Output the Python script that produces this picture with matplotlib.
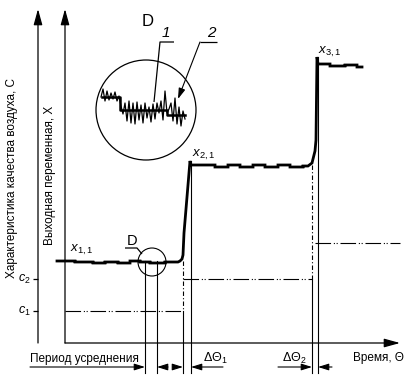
import matplotlib.pyplot as plt
from matplotlib.patches import Circle

plt.rcParams['font.family'] = ['Liberation Sans', 'DejaVu Sans']
plt.rcParams['mathtext.fontset'] = 'custom'
plt.rcParams['mathtext.rm'] = 'Liberation Sans'
plt.rcParams['mathtext.it'] = 'Liberation Sans:italic'

# --- data (time / value units, origin at the axes corner) ---
c_levels = [32, 64, 100]
c_spans = [(0, 118), (118, 247), (250, 335)]
c_ticks = [32, 64]
c_labels = [r'$c_1$', r'$c_2$']

# output signal X: step levels with small ripples
lvl1_t = [-8, 10, 28, 40, 53, 65, 75, 85, 100, 113]
lvl1_v = [82, 81, 80, 81, 80, 82, 81, 80, 81]
rise1_t = [113, 115, 117, 118, 119, 125, 126]
rise1_v = [81, 82, 84, 88, 110, 182, 178]
lvl2_t = [126, 150, 163, 175, 188, 200, 213, 225, 238, 243]
lvl2_v = [178, 176, 178, 176, 178, 176, 178, 176, 177]
rise2_t = [243, 247, 250, 251, 252, 253]
rise2_v = [177, 180, 192, 203, 286, 279]
lvl3_t = [253, 265, 280, 292, 297]
lvl3_v = [279, 277, 278, 276]

# times
t_avg = (80, 92)
t_step1 = (118, 126)
t_step2 = (247, 253)

# zoom "D": averaged (1) and raw (2) signals
avg_t = [37, 55, 102, 120]
avg_v = [246, 233, 228]
raw_t = [36, 38, 40, 42, 44, 46, 48, 50, 52, 54, 56, 58, 60, 62, 64, 66, 68, 70,
         72, 74, 76, 78, 80, 82, 84, 86, 88, 90, 92, 94, 96, 98, 100, 102, 104,
         106, 108, 110, 112, 114, 116, 118, 120]
raw_v = [246, 254, 242, 252, 243, 250, 244, 251, 242, 247, 237, 229, 240, 222,
         242, 220, 240, 219, 241, 223, 238, 220, 240, 225, 236, 221, 239, 224,
         240, 230, 242, 223, 252, 230, 234, 240, 222, 245, 219, 236, 217, 232, 224]


def steps(t, v):
    xs, ys = [], []
    for i, val in enumerate(v):
        xs += [t[i], t[i + 1]]
        ys += [val, val]
    return xs, ys


fig = plt.figure(figsize=(4.1, 3.8), dpi=100)
ax = fig.add_axes([0, 0, 1, 1])
ax.set_xlim(-65, 345)
ax.set_ylim(-37, 343)
ax.axis('off')

k = dict(color='black', lw=0.9, solid_capstyle='butt')
big = dict(arrowstyle='-|>,head_length=0.8,head_width=0.22', color='black',
           lw=0.9, mutation_scale=12, shrinkA=0, shrinkB=0)
small = dict(arrowstyle='-|>,head_length=0.8,head_width=0.25', color='black',
             lw=0.8, mutation_scale=8, shrinkA=0, shrinkB=0)

# axes
ax.annotate('', xy=(-27, 334), xytext=(-27, 0), arrowprops=big)
ax.annotate('', xy=(0, 334), xytext=(0, 0), arrowprops=big)
ax.annotate('', xy=(335, 0), xytext=(0, 0), arrowprops=big)

for y, lab in zip(c_ticks, c_labels):
    ax.plot([-32, -27], [y, y], **k)
    ax.text(-34, y, lab, ha='right', va='center', fontsize=9)

# true concentration C
dashdot = (0, (14, 2.5, 1, 1.5, 1, 2.5))
for lev, (a, b) in zip(c_levels, c_spans):
    ax.plot([a, b], [lev, lev], color='black', lw=0.8, linestyle=dashdot)

# signal X
x1, y1 = steps(lvl1_t, lvl1_v)
x2, y2 = steps(lvl2_t, lvl2_v)
x3, y3 = steps(lvl3_t, lvl3_v)
sx = x1 + rise1_t + x2 + rise2_t + x3
sy = y1 + rise1_v + y2 + rise2_v + y3
ax.plot(sx, sy, color='black', lw=2.0, solid_joinstyle='miter')

# vertical reference lines
for t in t_avg:
    ax.plot([t, t], [82, -30], color='black', lw=0.8)
ax.plot([t_step1[0]] * 2, [82, c_levels[0]], color='black', lw=0.8, linestyle=(0, (4, 2, 1, 2)))
ax.plot([t_step1[0]] * 2, [c_levels[0], -30], color='black', lw=0.8)
ax.plot([t_step1[1]] * 2, [182, -30], color='black', lw=0.8)
ax.plot([t_step2[0]] * 2, [178, c_levels[1]], color='black', lw=0.8, linestyle=(0, (4, 2, 1, 2)))
ax.plot([t_step2[0]] * 2, [c_levels[1], -30], color='black', lw=0.8)
ax.plot([t_step2[1]] * 2, [286, -30], color='black', lw=0.8)

# dimension arrows
yd = -24
ax.annotate('', xy=(t_avg[0], yd), xytext=(-35, yd), arrowprops=small)
ax.annotate('', xy=(t_avg[1], yd), xytext=(103, yd), arrowprops=small)
ax.annotate('', xy=(t_step1[0], yd), xytext=(108, yd), arrowprops=small)
ax.annotate('', xy=(t_step1[1], yd), xytext=(158, yd), arrowprops=small)
ax.annotate('', xy=(t_step2[0], yd), xytext=(213, yd), arrowprops=small)
ax.annotate('', xy=(t_step2[1], yd), xytext=(267, yd), arrowprops=small)

ax.text(-35, -19, 'Период усреднения', fontsize=8.5, va='baseline', ha='left')
ax.text(138, -19, r'$\Delta\Theta_1$', fontsize=9, va='baseline', ha='left')
ax.text(217, -19, r'$\Delta\Theta_2$', fontsize=9, va='baseline', ha='left')
ax.text(288, -18, 'Время, Θ', fontsize=8.5, va='baseline', ha='left')

# axis titles
ax.text(-53, 165, 'Характеристика качества воздуха, C', rotation=90,
        ha='center', va='center', fontsize=8.5)
ax.text(-15, 168, 'Выходная переменная, X', rotation=90,
        ha='center', va='center', fontsize=8.5)

# level labels
ax.text(5, 93, r'$x_{1,1}$', fontsize=9.5, va='center', ha='left')
ax.text(127, 188, r'$x_{2,1}$', fontsize=9.5, va='center', ha='left')
ax.text(253, 291, r'$x_{3,1}$', fontsize=9.5, va='center', ha='left')

# small circle D
ax.add_patch(Circle((87, 81), 14, fill=False, color='black', lw=0.8))
ax.text(67, 102, 'D', fontsize=10.5, ha='center', va='center')
ax.plot([60, 72, 77], [95, 95, 89], **k)

# zoom circle D
ax.add_patch(Circle((81, 233), 50, fill=False, color='black', lw=0.9))
ax.text(83, 322, 'D', fontsize=12, ha='center', va='center')
ax.plot(raw_t, raw_v, color='black', lw=0.9)
ax2, ay2 = steps(avg_t, avg_v)
ax.plot(ax2, ay2, color='black', lw=1.8)

ax.text(101, 310, '1', fontsize=11, style='italic', ha='center', va='center')
ax.plot([109, 95, 89], [301, 301, 241], **k)
ax.text(146, 310, '2', fontsize=11, style='italic', ha='center', va='center')
ax.plot([152, 135], [301, 301], **k)
ax.annotate('', xy=(113, 244), xytext=(135, 301), arrowprops=small)

fig.savefig('out.png', dpi=100)
